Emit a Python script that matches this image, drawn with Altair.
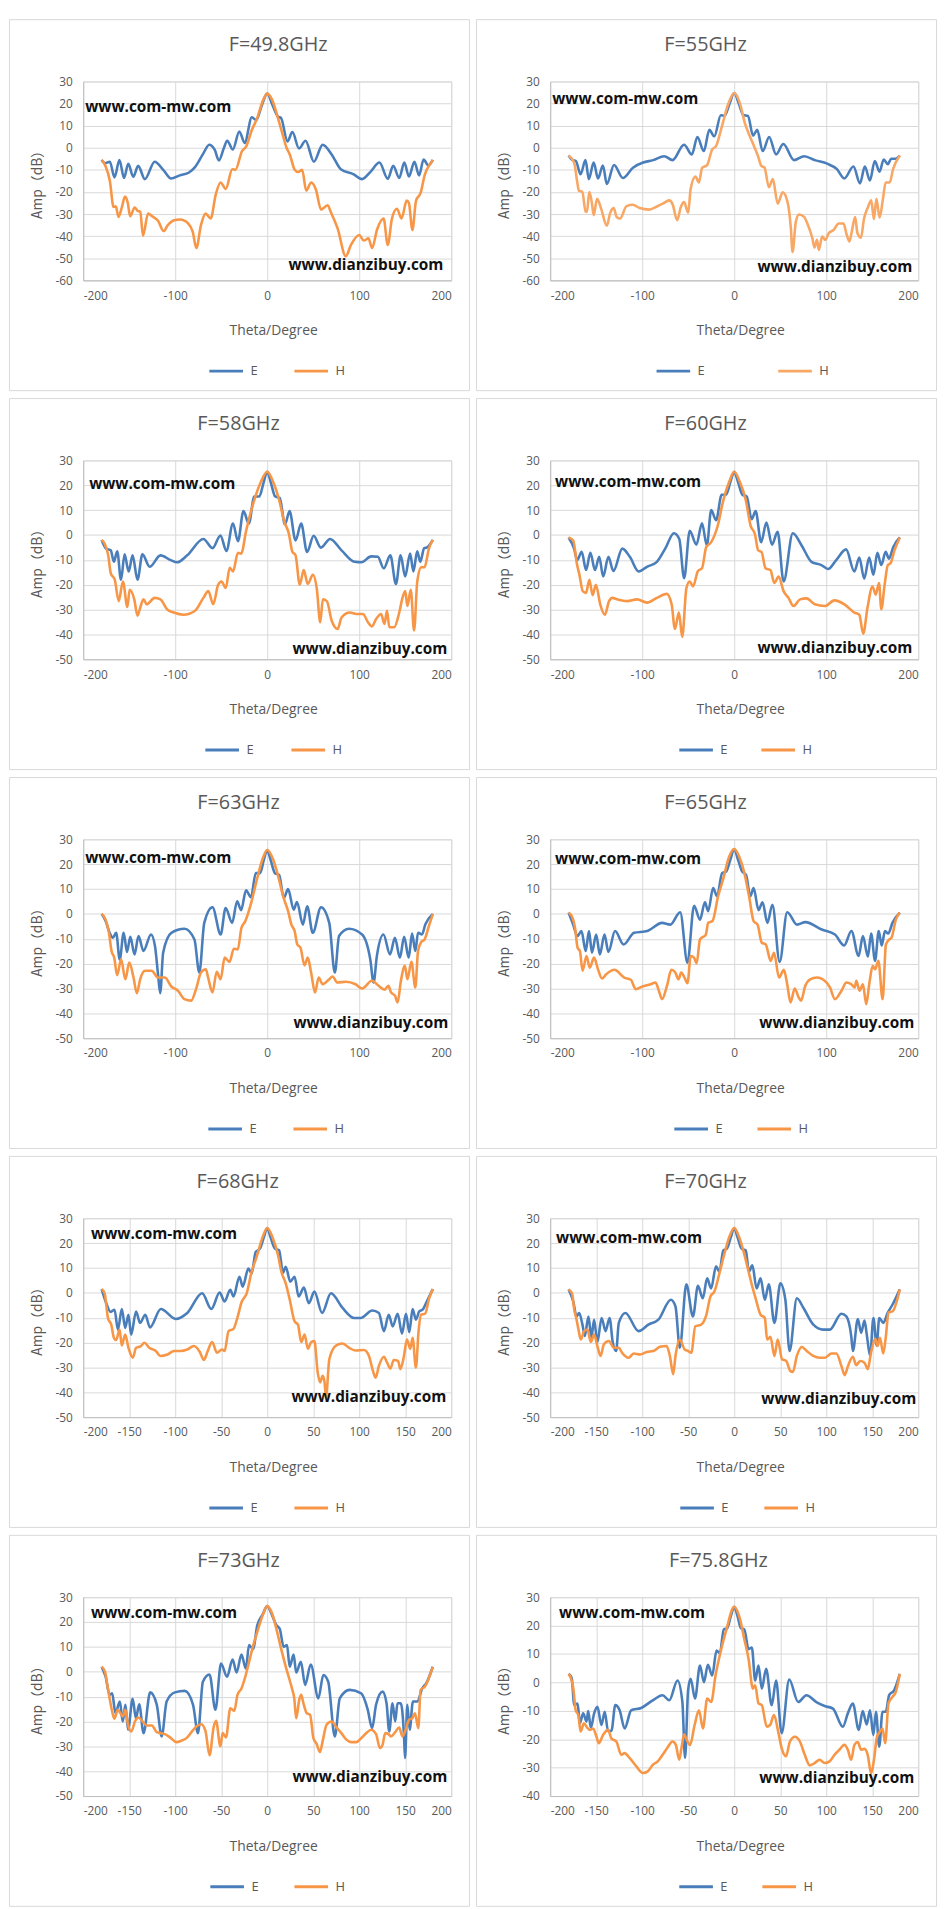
import altair as alt
import pandas as pd

# ---------------- data (theta in degrees, amplitude in dB) ----------------
TITLES = ["F=49.8GHz", "F=55GHz", "F=58GHz", "F=60GHz", "F=63GHz",
          "F=65GHz", "F=68GHz", "F=70GHz", "F=73GHz", "F=75.8GHz"]

E_49_8 = [[-180,-5.5],[-176,-7],[-171,-6.3],[-166,-13.4],[-160.6,-5.6],[-155.6,-13.7],[-151,-7.2],[-145.6,-13.1],[-140.2,-8.2],[-133,-14.2],[-122.3,-6.3],[-113,-10],[-104.4,-13.9],[-95,-12.5],[-85,-11.2],[-79,-9],[-70,-3],[-63,1.4],[-57,-1],[-52.5,-5.7],[-47,0],[-43.5,3.2],[-37.4,-0.8],[-30.3,7.4],[-24.5,2.2],[-16.7,13.8],[-12,12.5],[-6,19],[0,24.5],[6,19],[12,14],[15,13.5],[22,2.9],[27.4,7.1],[34.5,-0.3],[41.7,3.2],[50.7,-6.3],[60.3,1.4],[70,-3],[80,-9.7],[94,-12],[103,-14.2],[112,-11],[122,-6.7],[131,-14],[137,-8.2],[143.5,-13.7],[149,-6.7],[154,-13],[160,-6.3],[165,-12.5],[170,-5.3],[175,-8],[180,-5.5]]
H_49_8 = [[-180,-5.5],[-176,-8],[-171,-15],[-167,-26.8],[-164.5,-26.5],[-161.7,-31.3],[-158,-27],[-154.6,-22.1],[-151.5,-25],[-149,-31],[-144,-27],[-141,-28.5],[-138,-29],[-135,-39.8],[-129.5,-29.8],[-125,-31],[-118.7,-33],[-112.6,-37.7],[-108,-35],[-101,-32.8],[-95,-32.5],[-90,-33],[-86.5,-34],[-81,-38],[-77,-45.4],[-72,-35],[-67,-29.8],[-61.4,-32],[-56,-21.3],[-50.7,-15.7],[-45,-18.6],[-38,-9.7],[-34.6,-10],[-27.4,-1.5],[-23,0.5],[-16.7,8],[-11,13.3],[-4,22],[0,24.5],[5,22],[12,13],[17.4,5],[21,0],[24.5,-3],[29.9,-10],[33.4,-11],[38,-10],[42.4,-19.4],[47.8,-15.7],[53,-19],[58.5,-28],[65.7,-26],[69,-29],[76.5,-36.5],[85.4,-49.1],[91,-44],[100,-39.5],[105,-42],[110,-41],[114,-45.4],[119.4,-37],[126.5,-32],[131,-44],[135.6,-32],[141,-27.6],[146,-32],[151.6,-23.9],[154,-25],[157.8,-37.2],[161.7,-24],[166.7,-20.4],[171.4,-12],[176,-8],[180,-5.5]]

E_55 = [[-180,-3.5],[-176,-5.5],[-172,-6],[-167,-12],[-161.6,-5.6],[-158,-14.2],[-152.7,-6.7],[-148,-13.9],[-142.7,-8],[-138.4,-16.4],[-130.6,-7.8],[-121,-13.7],[-110,-9],[-99,-6.7],[-88,-5.6],[-76,-3.8],[-67,-5.6],[-54.5,1.4],[-46,-3],[-40,4.9],[-33,-1.5],[-27,8.1],[-21.6,5.2],[-14.5,14.7],[-10.5,14.4],[-5,20],[0,24.8],[5,20],[10,14.8],[15,14.4],[20.5,5.5],[25,8.1],[31,-1.5],[38,4.9],[45.5,-3],[53.4,1.7],[65,-5.6],[76,-3.8],[88.4,-5.7],[101,-7.2],[111.7,-9.7],[119.6,-13.9],[129.6,-8.5],[136.7,-16.1],[142,-8.5],[147.5,-14.8],[152.8,-6],[158,-10.8],[162.5,-5.3],[167,-7.5],[170.5,-5],[175,-5],[180,-3.5]]
H_55 = [[-180,-3.5],[-174,-6.7],[-170.5,-15.7],[-168.8,-19.4],[-165,-20],[-161.6,-28.8],[-160,-29],[-157.5,-20],[-154.8,-24.6],[-152.7,-30.5],[-149,-23.1],[-144.8,-27.3],[-138.4,-35.3],[-135,-29.8],[-131,-27.3],[-127.7,-31.3],[-124,-32],[-117,-26.4],[-110,-25.8],[-102.7,-27.3],[-92,-28],[-85,-26.8],[-77.7,-25.3],[-70.5,-23.8],[-67,-25.5],[-62,-32.8],[-58,-26.8],[-54.5,-24.6],[-50,-29.4],[-47.3,-18.6],[-42,-13],[-38.4,-15.7],[-34.8,-9],[-29.5,-7.9],[-24,-0.8],[-19.8,0.7],[-13.4,9.6],[-6.3,20],[0,24.8],[6.3,20],[11.6,11.1],[17,5.2],[21.6,0.7],[25.9,-3.8],[29.5,-8.2],[33,-9],[37.7,-17.9],[42,-14.2],[47.3,-25.3],[52.7,-20.1],[58,-24.6],[61.6,-36.5],[63.4,-47.2],[67,-33.5],[70.5,-30.2],[76,-31.3],[79.5,-34.3],[84.8,-40.7],[87.3,-45.1],[90,-41.7],[92,-46.2],[95.6,-40.2],[99,-41.7],[102.7,-38.7],[108,-37.2],[113.6,-34.3],[118.8,-34.3],[122.4,-39.5],[125.3,-42.4],[127.8,-38],[131.4,-31.3],[134,-38.7],[137.8,-40.7],[141,-32.3],[145.5,-26.8],[149,-23.8],[151.8,-32.3],[154.6,-23.1],[158,-31.6],[161.7,-23.1],[164.6,-15.7],[169,-15.7],[172.7,-9.7],[180,-3.5]]

E_58 = [[-180,-2],[-175,-5.5],[-170,-6.2],[-166.7,-10.8],[-163,-6.6],[-158.9,-18],[-155,-7.8],[-150.6,-14.7],[-146.3,-8.2],[-141,-18],[-135.6,-7.8],[-127.8,-12.8],[-116,-8.2],[-105,-10.1],[-98,-11],[-87,-8.2],[-69.4,-1.6],[-59.4,-5.3],[-50.8,-0.2],[-44.4,-6.4],[-37.2,4.6],[-31.8,-2.5],[-25.8,9.6],[-20,4.6],[-14,15.5],[-8.6,15.5],[-4,21],[0,25.4],[4,21],[8.6,15.5],[13.6,14.9],[19.3,4.3],[24.3,9.6],[30.8,-2.2],[36.9,4.6],[43.3,-6.8],[50.5,-0.3],[58.3,-5.1],[68.3,-1.6],[80.8,-6.2],[95,-10.8],[102.3,-11],[113,-8.6],[120.2,-8.8],[126.7,-13.4],[133.8,-8.2],[139.9,-19.7],[145,-8.2],[149.9,-16.7],[155.3,-7.5],[158.9,-14.7],[163,-6.6],[166.3,-10.8],[170.6,-5.3],[174.2,-4.9],[180,-2]]
H_58 = [[-180,-2],[-176.5,-3.6],[-172.8,-8.2],[-170,-15.4],[-165.7,-18],[-161.4,-26.6],[-156.8,-18.7],[-152,-29],[-149.5,-22],[-144.5,-25.9],[-141,-32.5],[-138,-29.2],[-134.5,-25.9],[-131,-27.9],[-122.4,-25.3],[-116,-25.9],[-108.8,-29.9],[-101.6,-31.2],[-90.9,-32.1],[-78.4,-30.5],[-69.4,-25.3],[-64,-22.6],[-58.7,-27.9],[-53.3,-20],[-49.7,-18.7],[-45,-21.3],[-40.8,-13.2],[-37.2,-14.7],[-31.8,-7.2],[-28.3,-7.5],[-22.9,1.7],[-15,12.9],[-6.8,21.4],[0,25.4],[6.4,21.4],[12.9,14.2],[18.3,5.7],[23.6,0.4],[27.2,-6.6],[30.8,-8.2],[35.4,-20],[39.7,-14.1],[44,-19.7],[49.7,-16],[54,-22],[57.6,-35.1],[60.5,-25.9],[64.8,-26.6],[70.1,-34.5],[76.6,-37.8],[80.8,-33.2],[89.8,-31.2],[97,-31.8],[104,-31.8],[109.5,-35.1],[113.8,-36.8],[118.4,-33.8],[123.8,-31.8],[127.4,-35.8],[130.2,-30.5],[132.7,-37.1],[138,-37.1],[143.5,-31.2],[147,-25.3],[150,-22.6],[152.4,-28.6],[156,-22],[159.6,-38.4],[163.1,-18.7],[167.4,-13],[171,-13],[175.7,-5.5],[180,-2]]

E_60 = [[-180,-1],[-174,-5.5],[-170.7,-10.1],[-165.7,-6.8],[-161,-14.1],[-156.3,-7.2],[-151.3,-14.1],[-146.7,-8.8],[-142.4,-16.7],[-136.7,-8.8],[-131.3,-14.5],[-121.6,-5.5],[-113.4,-8.8],[-103.8,-14.7],[-94.8,-12.8],[-84,-10.8],[-75,-5.5],[-65.5,0.7],[-59.7,-1.6],[-54.4,-17.4],[-48.3,1.7],[-41.1,-3.9],[-35,4.7],[-29.7,-4.2],[-25,10],[-19.7,5.9],[-13.6,16.2],[-8.9,16.2],[-4,21.5],[0,25.4],[4,21.5],[8.9,16.2],[13.6,15.5],[19,6.3],[23.3,9.6],[29.3,-2.9],[35,5],[41.1,-3.9],[47.2,1.3],[53.7,-18.7],[63.7,0.7],[73.3,-4.2],[84,-10.8],[94.8,-12.1],[102,-13.7],[110.9,-10.1],[121.6,-5.8],[130.6,-14.7],[136,-9.1],[141.3,-17.6],[146.7,-9.1],[151.3,-16],[155.6,-7.2],[159.9,-12.1],[164.6,-6.8],[168.2,-9.5],[172.8,-4.9],[180,-1]]
H_60 = [[-180,-1],[-175,-2.2],[-170.7,-12.1],[-168.2,-16],[-164.6,-22.6],[-161,-23.3],[-157.4,-18],[-153.9,-24.2],[-150.3,-20],[-145.6,-27.9],[-140.6,-32.1],[-136,-26.6],[-132.4,-25.3],[-127,-25.9],[-116.3,-26.6],[-105.5,-25.9],[-94.8,-27.2],[-84,-25.3],[-73.3,-23.7],[-68,-27.9],[-64.4,-37.8],[-60.1,-31.2],[-56.5,-41],[-51.9,-21.3],[-48.3,-18.7],[-44.7,-20.7],[-39.4,-14.5],[-35,-13.4],[-30.4,-4.9],[-25,-2.9],[-17.9,3.7],[-12.5,12.9],[-5.4,21.4],[0,25.4],[6.1,21.4],[12.5,14.2],[17.9,3.7],[22.5,0.4],[26.1,-6.2],[29.7,-6.8],[34,-13.4],[39.4,-14.1],[43.6,-19.3],[48.3,-16.7],[53.7,-22.6],[59,-25.3],[64.4,-28.6],[71.6,-25.9],[78.7,-25.5],[87.6,-27.9],[98.4,-28.6],[109,-26.3],[119.8,-27.9],[130.6,-31.2],[136,-32.1],[140.2,-39.7],[144.9,-29.2],[150.3,-20.7],[153.8,-24],[157.4,-19.3],[159.9,-29.9],[163.5,-20],[167,-12.1],[169.9,-11.4],[174.2,-6.2],[180,-1]]

E_63 = [[-180,0],[-175.6,-2.9],[-171.3,-7.6],[-167.7,-9.6],[-164.2,-7.6],[-160.3,-18.3],[-156,-7.6],[-152.4,-15.3],[-148.8,-9.2],[-144.2,-16.3],[-139.9,-8.9],[-134.5,-14.9],[-126.3,-8.3],[-122,-12.9],[-118.5,-24.9],[-116.3,-31.9],[-113.1,-15.6],[-104.2,-7.6],[-89.9,-6],[-79.1,-10.3],[-73.8,-23.6],[-68.4,-3.6],[-59.5,2.7],[-50.6,-8.3],[-45.2,2.4],[-38.1,-3.6],[-32.7,5.1],[-28.4,1.5],[-23,9.5],[-17.7,6.7],[-12.4,16.4],[-7.7,16.4],[-3.5,22],[0,25.7],[3.5,22],[8.4,16.4],[13,15.7],[18,6.4],[22.7,10],[28.8,1.7],[32.3,4.8],[38.8,-4.3],[43.4,3.1],[49.5,-7.6],[58.5,2.7],[67.4,-3.6],[73.5,-23.6],[78.1,-8.9],[88.8,-6],[103.1,-8.3],[112,-18.3],[115.6,-27.6],[119.2,-16.9],[126.3,-8.3],[133.5,-16.3],[138.8,-9.6],[144.2,-17.6],[148.8,-9.2],[153.8,-17.6],[157.4,-7.9],[161,-14.9],[163.9,-7.6],[168.2,-8.3],[171.8,-4.3],[180,0]]
H_63 = [[-180,0],[-175.6,-2.3],[-172,-7.6],[-169.2,-14.9],[-166.3,-17.6],[-163.1,-24.7],[-158.8,-18.3],[-154.2,-26.3],[-149.9,-19.6],[-145.3,-25.6],[-141.7,-31.9],[-138.1,-26.3],[-132.8,-22.9],[-125.6,-22.9],[-118.5,-25.6],[-111.3,-25.6],[-104.2,-29.2],[-97,-30.9],[-89.9,-34.3],[-82.7,-34.9],[-77.4,-30.3],[-72,-23.6],[-66.7,-22.3],[-64.2,-25.6],[-59.5,-31.6],[-54.9,-23.3],[-50.6,-26.3],[-46.3,-17.6],[-40.9,-19.3],[-36.3,-14],[-32,-14.3],[-28,-5.6],[-23.8,-2.9],[-18.4,3.1],[-11.3,13.7],[-4.8,22.4],[0,25.7],[5.9,22.4],[12,15.1],[17.3,7.1],[22.7,1.1],[26.3,-4.3],[29.8,-6.9],[32.7,-12.3],[36.2,-13.6],[40.5,-20.7],[44.1,-17.6],[47.7,-23.6],[52,-31.6],[55.9,-25.6],[60.2,-28.3],[67.4,-26.3],[71,-25.2],[76.3,-27.6],[85.3,-27.3],[96,-28.3],[103.1,-30],[113.8,-26.9],[121,-28.9],[127.4,-30.5],[131.7,-28.9],[134.6,-31.6],[138.9,-32.9],[141.7,-35.6],[145.3,-26.9],[149.6,-20.9],[152.4,-26.3],[156.7,-19.3],[161,-29.6],[163.9,-14.9],[167.4,-11.3],[171,-10.3],[175.7,-4.9],[180,0]]

E_65 = [[-180,0.5],[-175,-4.3],[-170.4,-8.9],[-166,-6.9],[-161.4,-14.9],[-157.8,-6.9],[-154.6,-15.6],[-150,-8.3],[-146,-16.3],[-141,-8.3],[-136.7,-15.3],[-129.5,-6.9],[-120.2,-12.3],[-108.8,-7.6],[-94.5,-6.9],[-78.4,-3.6],[-69.4,-4.3],[-58.7,0.7],[-50.8,-19.6],[-43.6,3.3],[-37.2,-2.3],[-31.8,4.7],[-28.3,1.1],[-22.9,10.4],[-18.6,7.1],[-13.2,16.4],[-8.6,17.1],[-4,22],[0,26.1],[4,22],[8.6,17.1],[12.9,15.7],[17.5,7.1],[21.1,10.4],[26.5,1.5],[30.8,4.7],[36.1,-3.6],[41.5,3.7],[49.4,-19.3],[57.6,0.7],[68.3,-4.3],[77.3,-3.3],[95.2,-6.3],[109.5,-8.3],[119.5,-12.7],[127.4,-6.9],[135.2,-16.9],[139.9,-8.9],[145.3,-17.2],[148.8,-7.9],[153.1,-18.9],[157.1,-6.9],[160.3,-12.7],[163.9,-6.9],[167.4,-7.9],[172,-3.6],[180,0.5]]
H_65 = [[-180,0.5],[-176.5,-0.9],[-173,-5.6],[-170.2,-13.6],[-167.7,-14.9],[-164.8,-22.9],[-160.5,-16.9],[-157,-21.6],[-152.3,-17.6],[-148,-22.3],[-143.7,-26],[-139.1,-24.3],[-130.2,-22.5],[-119.5,-25.6],[-112.3,-26.5],[-106.9,-30.3],[-99.8,-29.2],[-90.8,-28.3],[-85.5,-27.6],[-81.9,-30.9],[-78.4,-34.3],[-73,-28.9],[-68.3,-22.5],[-64,-23.6],[-60.5,-26.3],[-57.6,-23.6],[-54,-25.6],[-50.8,-27.9],[-47.2,-16.9],[-43.6,-17.6],[-40.8,-19.9],[-37.2,-10.3],[-30.8,-8.3],[-28.3,-3.6],[-23.6,-2.9],[-17.5,7.1],[-12.2,13.7],[-5.7,22.8],[0,26.1],[5.7,22.8],[11.1,16.4],[16.5,6.4],[21.1,-2.9],[25.4,-4.3],[30,-11.6],[34.3,-12.3],[39.7,-18.9],[43.3,-15.6],[48.7,-25.6],[54,-22.5],[57.6,-28.3],[61.2,-35.6],[65.8,-30],[70.1,-33.6],[72.6,-34.9],[77.3,-28.9],[82.6,-26.3],[89.8,-25.6],[97,-26.5],[104.1,-29.6],[109.5,-34.3],[116.6,-30.9],[122,-27.6],[127.4,-28.3],[131,-29.6],[132.7,-26.9],[136.3,-30.9],[139.9,-28.3],[143.5,-36.3],[147,-27.6],[150.6,-20.9],[153.1,-22.3],[156.7,-18.9],[161.3,-34.3],[164.9,-12.3],[168.5,-10.3],[171,-9.6],[175.7,-2.3],[180,0.5]]

E_68 = [[-180,1.5],[-174.9,-4.2],[-170.2,-7.7],[-165.9,-6.8],[-162.3,-14.8],[-158,-6.5],[-154.4,-14.1],[-150.8,-8.8],[-147.9,-16.8],[-142.5,-7.5],[-138.2,-12.1],[-132.5,-8.8],[-127.5,-13.9],[-115.6,-6.5],[-99.5,-10.5],[-86.9,-8.1],[-70.7,-0.2],[-60.7,-6.5],[-51.7,0.1],[-46.3,-3.5],[-40.2,1.2],[-36.6,-1.5],[-30.2,6.5],[-26.6,2.5],[-20.5,9.8],[-16.9,7.8],[-12.6,16.4],[-7.9,17.8],[-3.5,22.5],[0,26.1],[3.5,22.5],[8.3,17.8],[12.9,17.1],[17.2,8.1],[20.1,10.5],[25.1,4.5],[29.8,6.5],[34.1,-1.5],[39.9,2.1],[45.2,-4.2],[51.3,0.5],[59.6,-8.1],[69.3,-0.2],[81.9,-6.1],[94.4,-10.1],[101.6,-10.1],[114.2,-7.1],[121.4,-8.1],[126.8,-15.4],[132.1,-8.8],[136.4,-13.5],[141.8,-8.4],[146.5,-16.4],[150.8,-8.4],[154.4,-15.8],[158,-6.5],[161.6,-10.8],[165.2,-7.5],[168.8,-6.8],[173.4,-3.5],[180,1.5]]
H_68 = [[-180,1.5],[-176.7,-0.2],[-173.1,-10.1],[-169.5,-12.8],[-166.6,-18.1],[-164.1,-19],[-160.5,-14.8],[-158,-21.2],[-154.4,-16.8],[-150.8,-22.1],[-146.1,-26.1],[-142.5,-22.1],[-137.1,-21.4],[-133.5,-20.1],[-128.2,-22.1],[-121,-23.4],[-116.3,-25.4],[-108.4,-24.8],[-101.3,-23.4],[-94.1,-23.4],[-86.9,-22.8],[-79.7,-21.4],[-73.2,-23.8],[-68.9,-27],[-64.6,-23.4],[-59.9,-19.8],[-54.6,-24.1],[-49.2,-22.8],[-46.3,-23.4],[-42,-15.4],[-36.6,-14.5],[-33,-10.8],[-27.6,-3.5],[-22.3,-0.2],[-16.9,8.5],[-11.5,14.5],[-5,22.4],[0,26.1],[5.7,22.4],[11.8,15.1],[15.4,8.5],[20.1,3.8],[24.4,-2.6],[29.8,-11.5],[33.4,-12.8],[37,-19.8],[40.6,-16.8],[44.2,-22.5],[47.8,-19.8],[51.3,-19.4],[54.9,-32.1],[57.5,-36],[60.3,-33.4],[62.1,-35.4],[63.9,-42],[67.5,-26.7],[74.7,-21.2],[81.9,-20.4],[89,-22.1],[96.2,-23.2],[105.2,-23],[110.6,-25.4],[114.9,-31.4],[117.8,-34.1],[121.4,-29.4],[126.8,-25.7],[130.3,-28.1],[133.9,-30.5],[137.5,-27],[142.2,-27.4],[144.7,-30.7],[148.3,-26.1],[151.9,-18.8],[155.5,-22.5],[158,-18.1],[161.6,-30.1],[164.5,-15.4],[167.3,-8.8],[171.6,-8.4],[176,-2.2],[180,1.5]]

E_70 = [[-180,1.4],[-174.9,-3.5],[-171.3,-9.5],[-168.5,-8.1],[-164.9,-12.8],[-162.4,-17.4],[-158.4,-9.5],[-155.2,-18.1],[-152.3,-10.8],[-148.7,-19.8],[-144.1,-10.1],[-139.8,-15.4],[-135.5,-10.1],[-131.9,-20.1],[-128.3,-23.4],[-125.4,-12.1],[-118.3,-8.1],[-103.9,-15.4],[-93.2,-12.8],[-82.4,-10.8],[-68.8,-2.8],[-63.8,-5.5],[-59.1,-22.1],[-52,3.4],[-44.8,-9.5],[-39.4,2.8],[-34.1,-2.2],[-29.4,5.8],[-25.1,1.8],[-19.7,10.7],[-16.1,8.5],[-11.8,17.1],[-7.9,17.8],[-3.5,22.5],[0,26.1],[3.5,22.5],[7.9,17.8],[12.5,17.1],[16.1,8.5],[19.7,11.1],[24.4,1.8],[28.7,5.8],[33.3,-2.8],[37.6,3.4],[43.7,-12.1],[50.2,3.8],[55.6,-2.8],[60.2,-23.4],[68.1,-2.2],[75.3,-6.1],[86,-12.8],[96.8,-14.8],[103.9,-14.8],[116.5,-8.4],[121.9,-9.5],[127.2,-17.4],[129,-23.4],[134.4,-10.5],[138,-16.1],[141.6,-11.1],[144.1,-16.8],[147.7,-25.4],[151.3,-10.1],[154.8,-21.2],[157.7,-10.1],[162,-12.1],[166.7,-8.1],[172,-4.8],[180,1.4]]
H_70 = [[-180,1.4],[-176.3,-0.2],[-173.8,-6.8],[-171.3,-10.8],[-169.2,-14.8],[-166.7,-18.8],[-163.1,-15.4],[-159.5,-14.8],[-155.9,-19.8],[-152.3,-16.8],[-148.7,-21.4],[-145.2,-25.4],[-141.6,-20.7],[-136.2,-19.4],[-130.8,-22.1],[-125.4,-22.1],[-121.9,-24.1],[-114.7,-26.1],[-109.3,-24.4],[-102.2,-24.8],[-95,-23.8],[-87.8,-23.4],[-80.6,-21.7],[-73.5,-21.4],[-69.9,-25.4],[-66.3,-32.7],[-63.8,-25.4],[-59.1,-18.8],[-53.8,-22.8],[-50.2,-23.4],[-46.6,-24.1],[-42.3,-13.5],[-35.8,-12.8],[-30.5,-9.2],[-25.8,-1.5],[-21.5,0.5],[-16.1,7.8],[-11.5,14.5],[-5.4,22.4],[0,26.1],[5.4,22.4],[10.8,15.8],[15.4,8.9],[19.7,2.5],[23.3,-2.2],[28.7,-8.8],[33.3,-10.1],[35.8,-18.8],[39.4,-17.7],[43.7,-25.4],[47.3,-18.8],[52,-26.7],[56.6,-27.4],[60.9,-31.4],[63.8,-31.8],[68.1,-25.4],[73.5,-21.8],[78.9,-23.4],[86,-25.4],[93.2,-26.1],[98.6,-26.1],[105.7,-24.4],[111.1,-24.4],[116.5,-29.4],[120.1,-33.1],[123.7,-29.4],[129,-25.7],[132.6,-29.1],[136.9,-27.4],[141.6,-28.1],[145.2,-30.7],[148.7,-24.1],[153.4,-18.5],[155.9,-21.4],[158.4,-18.1],[162,-24.4],[164.9,-17.4],[167.7,-7.9],[172,-7.5],[180,1.4]]

E_73 = [[-180,2],[-175.6,-2],[-171.3,-9.3],[-168.5,-8.7],[-164.9,-16.7],[-160.2,-12],[-157,-20],[-154.1,-13.3],[-151.3,-23.3],[-146.2,-10.9],[-142.7,-18.7],[-139.1,-13.1],[-134.4,-24.7],[-127.2,-8.3],[-120,-13.3],[-114.7,-26],[-109.3,-12],[-100.4,-8.3],[-89.6,-7.7],[-80.6,-13.3],[-75.3,-24.7],[-69.9,-4],[-62.7,-1.1],[-56.3,-15.3],[-50.2,3.3],[-43.7,-2],[-37.6,4.9],[-33.3,-0.3],[-28,6.9],[-23.3,1.3],[-19.7,10.7],[-15.4,9.1],[-10.8,18.7],[-5,23],[0,26.4],[5,23],[10,18.7],[13.6,17.3],[17.9,10],[21.5,10.7],[24.4,2],[28.7,6.9],[31.5,-0.3],[36.6,4],[41.2,-5.3],[47.3,2.9],[55.6,-10.7],[61,-1.3],[66.3,-4],[73.5,-26],[78.9,-10.7],[89.6,-7.3],[102.2,-8.7],[109.3,-15.3],[114,-22.7],[118.3,-13.3],[125.4,-8],[129.7,-12.7],[132.6,-24],[136.2,-12.7],[139.1,-20],[141.6,-12.7],[145.2,-12.7],[148.7,-26],[149.8,-34.7],[152.3,-13.3],[154.8,-23.3],[158.4,-12],[163,-12],[168.5,-6.7],[172.8,-4.7],[180,2]]
H_73 = [[-180,2],[-176.3,0],[-173.8,-5.3],[-171.3,-10.7],[-168.5,-16],[-166,-18.9],[-162.4,-15.3],[-159.5,-16.7],[-157,-18],[-154.1,-15.3],[-151.3,-21.3],[-147.7,-24],[-143.4,-19.7],[-139.8,-18.4],[-135.5,-20],[-130.8,-21.6],[-125.4,-21.6],[-120,-24.3],[-115.4,-24.7],[-111.1,-25.1],[-105.7,-26.4],[-98.6,-28.3],[-93.2,-27.7],[-87.8,-26.7],[-82.4,-24.3],[-77,-22],[-71.7,-21.1],[-67,-24],[-62.7,-33.6],[-58.1,-22],[-55.6,-19.7],[-50.9,-30],[-48.4,-24.7],[-44.8,-26.4],[-40.1,-14.7],[-35.8,-15.7],[-32.3,-9.3],[-28,-6.7],[-23.3,-1.3],[-19.7,4],[-15.1,10.7],[-10.8,16],[-4.3,23.3],[0,26.4],[5.4,23.3],[10.8,16],[15.1,9.3],[19.7,2.7],[23.3,-2],[26.9,-6.7],[29.4,-10.7],[31.5,-18.7],[34.8,-11.3],[36.9,-9.3],[39.4,-12.7],[43,-16.7],[46.6,-17.3],[50.2,-26.7],[53.8,-29.1],[57.3,-32.3],[60.2,-28],[64.5,-21.3],[69.9,-20],[75.3,-22.4],[80.6,-24.7],[86,-27.3],[91.4,-28.3],[96.8,-28.3],[102.2,-26.7],[107.5,-24.7],[112.9,-23.3],[118.3,-25.1],[122.6,-30.7],[125.4,-29.3],[128.3,-24.7],[131.9,-25.1],[134.4,-26],[139.1,-24.3],[143.4,-22.4],[147,-26],[150.5,-23.3],[154.1,-19.3],[157.7,-18.7],[160.6,-16.7],[164.2,-22.7],[166.7,-7.3],[171.3,-6],[180,2]]

E_75_8 = [[-180,3],[-176.6,1.5],[-173.8,-8],[-170.2,-7.4],[-167.7,-14.4],[-164.1,-10.9],[-160.5,-13.8],[-158.7,-10.1],[-155.8,-15.9],[-152.2,-10.9],[-148.6,-8.6],[-144.3,-15],[-140.7,-10.3],[-137.1,-17.1],[-133.5,-17.1],[-129.2,-8],[-124.5,-9.8],[-119.1,-16.2],[-111.9,-9.8],[-101.1,-9],[-88.5,-6.3],[-77.8,-4.5],[-70.6,-6.3],[-61.6,0.7],[-56.3,-6.9],[-53.4,-26.6],[-50.1,-2.8],[-47.3,1.3],[-42.6,-5.7],[-37.2,5.9],[-32.9,0.1],[-28.6,6.2],[-23.9,2.4],[-19.2,11.2],[-15.6,10.3],[-11.3,18.7],[-7.7,19],[-3.5,23.5],[0,26.6],[3.5,23.5],[7.4,19],[11,18.7],[15.6,11.7],[19.2,12.3],[22.8,0.7],[26.4,5.9],[30,-2.2],[34.7,4.8],[40.8,-8],[45.5,0.7],[51.6,-17.9],[59.8,1],[69.5,-6.9],[78.5,-4.5],[89.3,-6.9],[98.3,-8.3],[107.3,-9.2],[118.1,-15.6],[123.5,-10.9],[128.9,-7.4],[135.4,-16.7],[139.7,-10.1],[144,-14.8],[147.6,-9.8],[151.2,-18.5],[154.1,-10.3],[157.6,-22.6],[161.2,-10.3],[164.8,-10.3],[168.4,-4.5],[173.8,-2.8],[180,3]]
H_75_8 = [[-180,3],[-177.3,1.3],[-174.8,-2.2],[-172.3,-9.8],[-169.4,-11.5],[-166.9,-17.3],[-163.3,-14.4],[-160.5,-15.6],[-156.9,-16.7],[-153.3,-16.2],[-149.7,-19.1],[-147.2,-21.4],[-142.5,-18.5],[-137.1,-16.7],[-133.5,-19.7],[-128.1,-20.8],[-122.7,-25.5],[-119.1,-24.9],[-113.7,-26.6],[-106.5,-29.5],[-99.3,-31.9],[-93.9,-31.3],[-88.5,-29],[-83.1,-27.8],[-77.8,-25.5],[-72.4,-22.9],[-67,-20.8],[-63.4,-22],[-59.8,-27.2],[-57.3,-23.1],[-54.4,-18.3],[-51.6,-20.2],[-48,-22],[-43,-15],[-38.3,-9.8],[-34,-16.2],[-29.3,-5.7],[-25,-6.9],[-20.3,2.4],[-14.9,10.6],[-8.4,18.7],[0,26.6],[5.9,22.8],[11,15.2],[15.6,8.3],[20.3,-2.2],[22.8,-1],[26.4,-7.4],[30,-8],[35.4,-15.6],[39,-15],[43.3,-11.5],[48,-17.6],[51.6,-23.1],[56.2,-26],[60.6,-20.8],[66,-19.1],[71.4,-20.8],[76.7,-25.5],[82.1,-29.2],[87.5,-28.4],[92.9,-27.2],[98.3,-28.4],[103.7,-27.8],[109,-25.5],[114.4,-23.7],[119.8,-22],[123.5,-23.7],[127.1,-27.2],[130.7,-22],[134.3,-21],[137.9,-23.7],[141.5,-23.4],[145.1,-25.5],[148.7,-31.9],[152.3,-26.4],[154.8,-19.7],[158.4,-17.3],[161.2,-16.2],[164.1,-21.4],[167.7,-7.4],[172,-5.1],[175.6,-3.4],[180,3]]

E_CURVES = [E_49_8, E_55, E_58, E_60, E_63, E_65, E_68, E_70, E_73, E_75_8]
H_CURVES = [H_49_8, H_55, H_58, H_60, H_63, H_65, H_68, H_70, H_73, H_75_8]

Y_MIN = [-60, -60, -50, -50, -50, -50, -50, -50, -50, -40]
Y_MAX = [30] * 10
X_STEP = [100, 100, 100, 100, 100, 100, 50, 50, 50, 50]
SERIES = ["E", "H"]
WATERMARKS = ["www.com-mw.com", "www.dianzibuy.com"]

# ---------------- layout / style ----------------
W, H = 372, 201
FONT = "Open Sans, Noto Sans CJK SC"
CJK = "Noto Sans CJK SC"
TXT = "#595959"
GRID = "#d9d9d9"
BLUE = "#4a7ebb"
ORANGE = ["#f79646", "#f8a765"] + ["#f79646"] * 8
TITLE_DX = [11, -29, -29, -29, -29, -29, -30, -29, -29, -16]
WM1_X = [2, 2, 6, 5, 2, 5, 8, 6, 8, 9]
WM1_Y = [26, 18, 24, 22, 19, 20, 16, 20, 16, 16]
WM2_X = [8, 6, 4, 6, 3, 4, 5, 2, 4, 4]
WM2_Y = [186, 188, 191, 190, 186, 186, 181, 183, 182, 183]
LEG_X = [126, 106, 122, 129, 125, 124, 126, 130, 127, 129]
LEG_GAP = [79, 116, 80, 76, 79, 77, 79, 78, 78, 77]


def panel(i):
    e = pd.DataFrame(E_CURVES[i], columns=["theta", "amp"])
    e["series"] = "E"
    h = pd.DataFrame(H_CURVES[i], columns=["theta", "amp"])
    h["series"] = "H"

    xvals = list(range(-200, 201, X_STEP[i]))
    yvals = list(range(Y_MIN[i], Y_MAX[i] + 1, 10))

    x = alt.X("theta:Q",
              scale=alt.Scale(domain=[-200, 200], nice=False, zero=False),
              axis=alt.Axis(values=xvals, title="Theta/Degree", grid=True,
                            gridColor=GRID, domainColor="#bfbfbf", ticks=False,
                            labelExpr="'' + datum.value", labelFont=FONT,
                            labelFontSize=12, labelColor=TXT, labelPadding=10,
                            titleFont=FONT, titleFontSize=14, titleColor=TXT,
                            titleFontWeight="normal", titleX=192, titleY=51,
                            titleBaseline="middle", titleAlign="center"))
    y = alt.Y("amp:Q",
              scale=alt.Scale(domain=[Y_MIN[i], Y_MAX[i]], nice=False, zero=False),
              axis=alt.Axis(values=yvals, title="Amp（dB）", grid=True,
                            gridColor=GRID, domainColor="#bfbfbf", ticks=False,
                            labelExpr="'' + datum.value", labelFont=FONT,
                            labelFontSize=12, labelColor=TXT, labelPadding=11,
                            titleFont=CJK, titleFontSize=14, titleColor=TXT,
                            titleFontWeight="normal", titleX=-46, titleY=H / 2,
                            titleAngle=-90, titleBaseline="middle",
                            titleAlign="center"))
    color = alt.Color("series:N",
                      scale=alt.Scale(domain=SERIES, range=[BLUE, ORANGE[i]]),
                      legend=alt.Legend(orient="none", legendX=LEG_X[i],
                                        legendY=274, direction="horizontal",
                                        title=None, symbolType="stroke",
                                        symbolSize=1156, symbolStrokeWidth=3,
                                        labelFont=FONT, labelFontSize=13,
                                        labelColor=TXT, labelOffset=6,
                                        columnPadding=LEG_GAP[i] - 49,
                                        padding=0))

    one = alt.Data(values=[{"k": 0}])
    border = alt.Chart(one).mark_rect(filled=False, stroke=GRID, strokeWidth=1).encode(
        x=alt.value(-74.5), x2=alt.value(W + 18.5),
        y=alt.value(-62.5), y2=alt.value(H + 111.5))
    le = alt.Chart(e).mark_line(strokeWidth=2.6, interpolate="monotone").encode(
        x=x, y=y, color=color)
    lh = alt.Chart(h).mark_line(strokeWidth=2.6, interpolate="monotone").encode(
        x=x, y=y, color=color)
    title = alt.Chart(one).mark_text(font=FONT, fontSize=20, color=TXT,
                                     align="center", baseline="middle").encode(
        x=alt.value(W / 2 + TITLE_DX[i]), y=alt.value(-37),
        text=alt.value(TITLES[i]))
    wm1 = alt.Chart(one).mark_text(font=FONT, fontSize=15.5, fontWeight="bold",
                                   color="#111111", align="left",
                                   baseline="middle").encode(
        x=alt.value(WM1_X[i]), y=alt.value(WM1_Y[i]), text=alt.value(WATERMARKS[0]))
    wm2 = alt.Chart(one).mark_text(font=FONT, fontSize=15.5, fontWeight="bold",
                                   color="#111111", align="right",
                                   baseline="middle").encode(
        x=alt.value(W - WM2_X[i]), y=alt.value(WM2_Y[i]), text=alt.value(WATERMARKS[1]))
    return alt.layer(border, le, lh, title, wm1, wm2).properties(width=W, height=H)


chart = alt.concat(*[panel(i) for i in range(10)], columns=2,
                   spacing={"row": 5, "column": 4}).resolve_scale(
    color="independent", x="independent", y="independent"
).properties(padding=0, background="white").configure_view(stroke=GRID)

chart.save("out.html", embed_options={"renderer": "svg", "actions": False})
